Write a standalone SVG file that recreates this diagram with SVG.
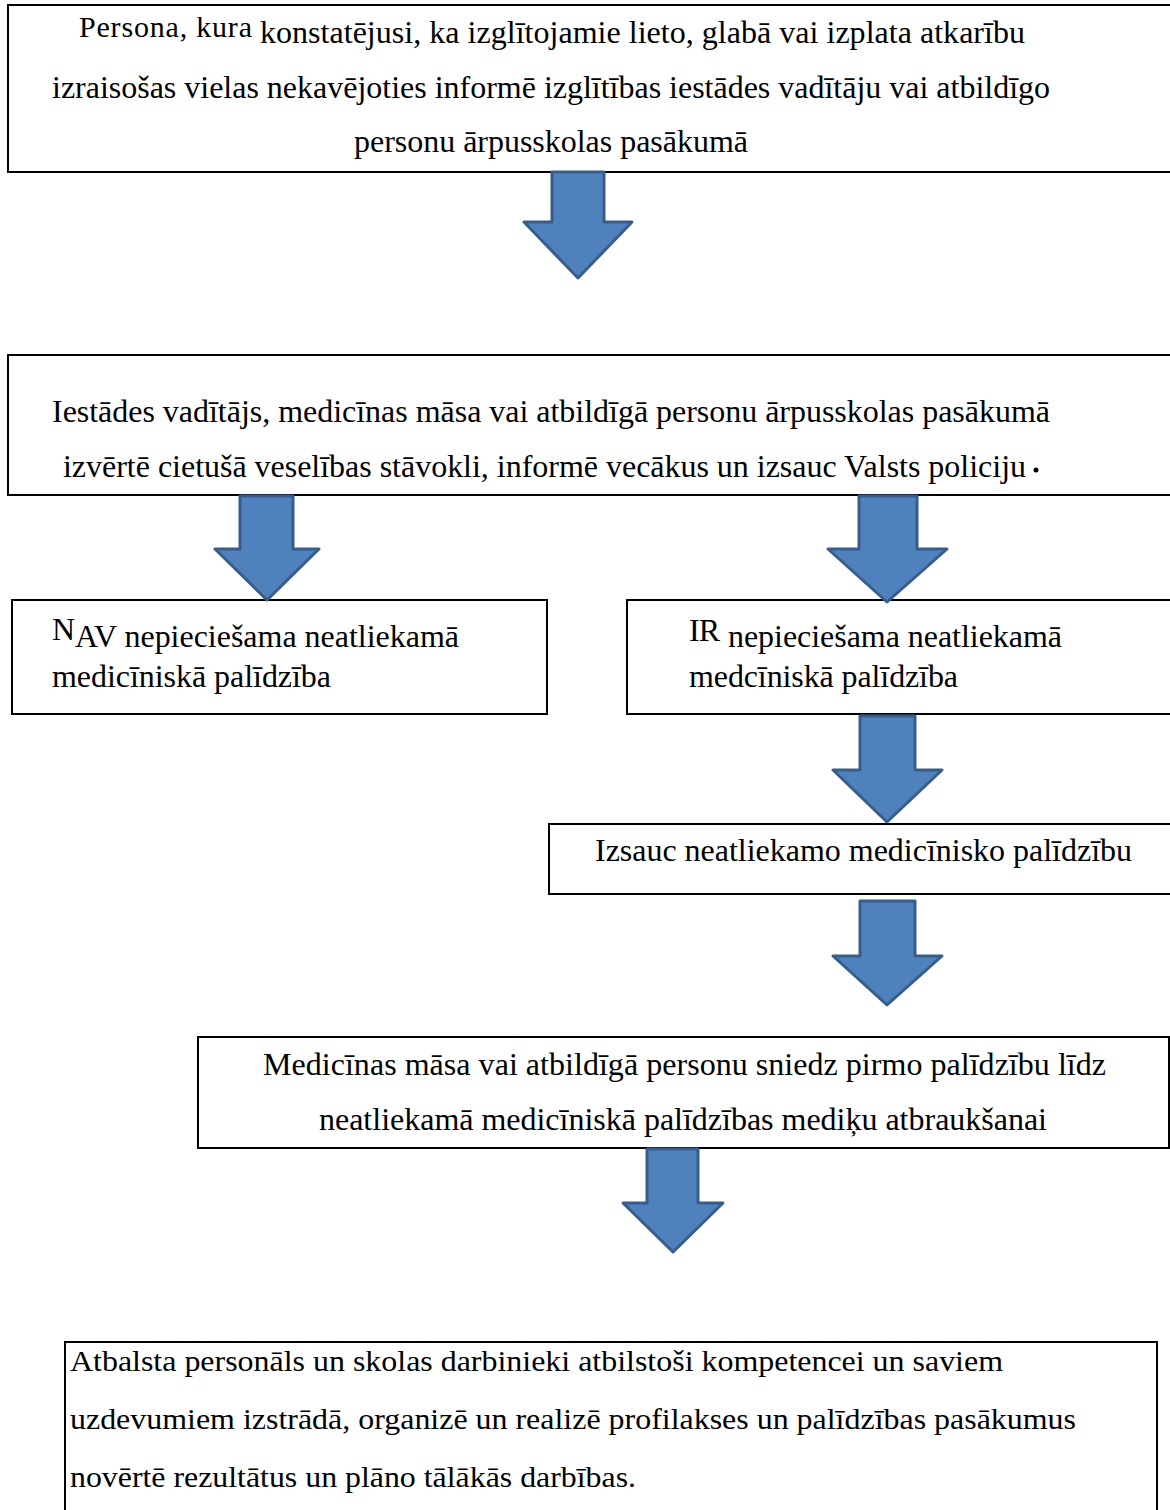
<svg xmlns="http://www.w3.org/2000/svg" width="1170" height="1510" viewBox="0 0 1170 1510">
<style>
.box{fill:#fff;stroke:#000;stroke-width:2}
.t{font-family:"Liberation Serif","Times New Roman",serif;font-size:32px;fill:#000}
.s{font-size:30px}
.c{font-size:30px}
.arr{fill:#4F81BD;stroke:#385D8A;stroke-width:3;stroke-linejoin:round}
</style>
<rect width="1170" height="1510" fill="#fff"/>
<g id="n1">
<rect class="box" x="8" y="5" width="1175" height="167"/>
<text class="t s" x="79" y="37" textLength="173">Persona, kura</text>
<text class="t" x="260" y="43" textLength="765">konstatējusi, ka izglītojamie lieto, glabā vai izplata atkarību</text>
<text class="t" x="52" y="98" textLength="998">izraisošas vielas nekavējoties informē izglītības iestādes vadītāju vai atbildīgo</text>
<text class="t" x="354" y="152" textLength="394">personu ārpusskolas pasākumā</text>
</g>
<g id="n2">
<rect class="box" x="8" y="355" width="1175" height="140"/>
<text class="t" x="52" y="422" textLength="998">Iestādes vadītājs, medicīnas māsa vai atbildīgā personu ārpusskolas pasākumā</text>
<text class="t" x="63" y="477" textLength="963">izvērtē cietušā veselības stāvokli, informē vecākus un izsauc Valsts policiju</text>
<circle cx="1036" cy="470" r="2.5" fill="#000"/>
</g>
<g id="n3">
<rect class="box" x="12" y="600" width="535" height="114"/>
<text class="t" x="52" y="640">N</text>
<text class="t" x="75" y="647" textLength="384">AV nepiecie&#353;ama neatliekamā</text>
<text class="t" x="52" y="687" textLength="279">medicīniskā palīdzība</text>
</g>
<g id="n4">
<rect class="box" x="627" y="600" width="560" height="114"/>
<text class="t" x="689" y="641" textLength="31">IR</text>
<text class="t" x="728" y="647" textLength="334">nepieciešama neatliekamā</text>
<text class="t" x="689" y="687" textLength="269">medcīniskā palīdzība</text>
</g>
<g id="n5">
<rect class="box" x="549" y="824" width="640" height="70"/>
<text class="t" x="595" y="861" textLength="537">Izsauc neatliekamo medicīnisko palīdzību</text>
</g>
<g id="n6">
<rect class="box" x="198" y="1037" width="971" height="111"/>
<text class="t" x="263" y="1075" textLength="843">Medicīnas māsa vai atbildīgā personu sniedz pirmo palīdzību līdz</text>
<text class="t" x="319" y="1130" textLength="728">neatliekamā medicīniskā palīdzības mediķu atbraukšanai</text>
</g>
<g id="n7">
<rect class="box" x="65" y="1342" width="1092" height="200"/>
<text class="t c" x="70" y="1371" textLength="933" lengthAdjust="spacingAndGlyphs">Atbalsta personāls un skolas darbinieki atbilstoši kompetencei un saviem</text>
<text class="t c" x="70" y="1429" textLength="1006" lengthAdjust="spacingAndGlyphs">uzdevumiem izstrādā, organizē un realizē profilakses un palīdzības pasākumus</text>
<text class="t c" x="70" y="1487" textLength="566" lengthAdjust="spacingAndGlyphs">novērtē rezultātus un plāno tālākās darbības.</text>
</g>
<g id="connectors">
<path class="arr" d="M552,172 H604 V222 H632 L578,278 L524,222 H552 Z"/>
<path class="arr" d="M240,496 H293 V549 H319 L267,600 L215,549 H240 Z"/>
<path class="arr" d="M859,496 H917 V549 H947 L887,602 L828,549 H859 Z"/>
<path class="arr" d="M860,716 H915 V770 H942 L887,822 L833,770 H860 Z"/>
<path class="arr" d="M860,901 H915 V956 H942 L887,1005 L833,956 H860 Z"/>
<path class="arr" d="M647,1149 H698 V1203 H723 L673,1252 L623,1203 H647 Z"/>
</g>
</svg>
